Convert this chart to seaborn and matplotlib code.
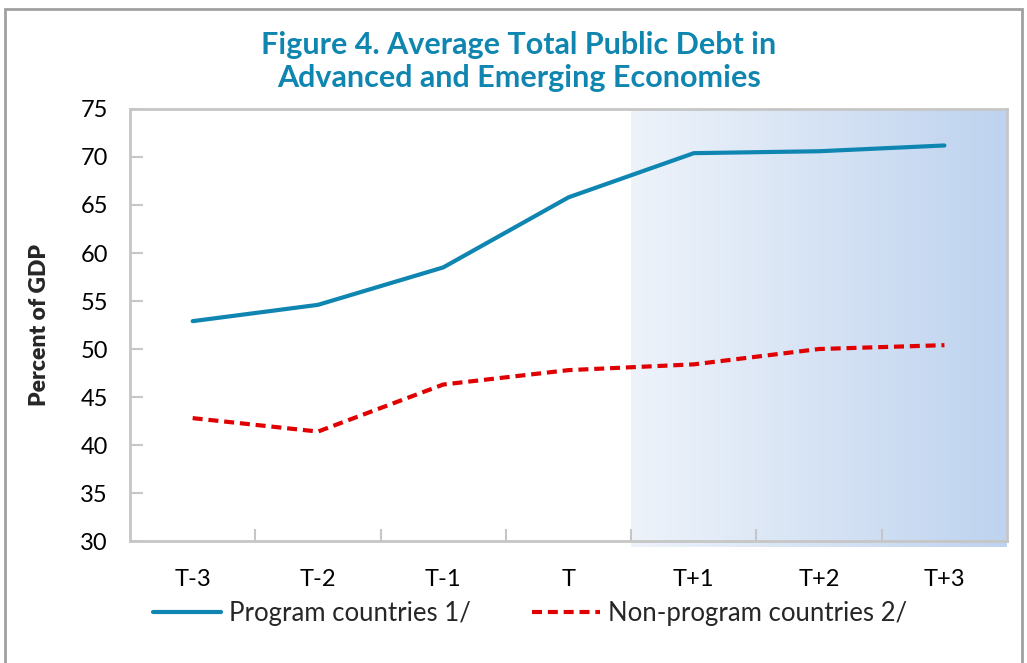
import numpy as np
import pandas as pd
import matplotlib
matplotlib.use("Agg")
import matplotlib.pyplot as plt
import seaborn as sns
from matplotlib.colors import LinearSegmentedColormap
from matplotlib.patches import Rectangle

periods = ["T-3", "T-2", "T-1", "T", "T+1", "T+2", "T+3"]
program = [52.9, 54.6, 58.5, 65.8, 70.4, 70.6, 71.2]
non_program = [42.8, 41.4, 46.3, 47.8, 48.4, 50.0, 50.4]

sns.set_theme(style="white")
plt.rcParams["font.family"] = ["Lato", "DejaVu Sans"]

df = pd.DataFrame({
    "period": periods * 2,
    "value": program + non_program,
    "series": ["Program countries 1/"] * 7 + ["Non-program countries 2/"] * 7,
})

fig = plt.figure(figsize=(10.27, 6.63), dpi=100)
ax = fig.add_axes([0.1266, 0.184, 0.854, 0.6516])

blue = "#0E86B1"
red = "#E00000"
gray = "#C6C6C6"

sns.lineplot(data=df, x="period", y="value", hue="series", style="series",
             palette=[blue, red], dashes=[(None, None), (3, 1.5)],
             linewidth=3, ax=ax, legend=False, sort=False)
ax.lines[1].set_linestyle((0, (2.4, 1.4)))

ax.set_xlim(-0.5, 6.5)
ax.set_ylim(30, 75)

# shaded projection region
cmap = LinearSegmentedColormap.from_list("proj", ["#EEF3FA", "#BED3EF"])
grad = np.linspace(0, 1, 256).reshape(1, -1)
ax.imshow(grad, cmap=cmap, aspect="auto", extent=[3.5, 6.5, 29.4, 75],
          zorder=0, clip_on=False)

ax.set_yticks(range(30, 80, 5))
ax.set_xticks(range(7))
ax.set_xticklabels(periods)
ax.set_xticks(np.arange(0.5, 6.5, 1), minor=True)
ax.tick_params(axis="x", which="major", length=0, pad=20, labelsize=17, colors="black")
ax.tick_params(axis="x", which="minor", direction="in", length=9, width=1.5, color=gray, bottom=True)
ax.tick_params(axis="y", direction="in", length=9, width=1.5, color=gray, labelsize=17, pad=16, left=True)
for lab in ax.get_yticklabels() + ax.get_xticklabels():
    lab.set_color("black")

for s in ax.spines.values():
    s.set_color(gray)
    s.set_linewidth(2)

ax.set_xlabel("")
ax.set_ylabel("Percent of GDP", fontsize=16.5, fontweight="heavy", labelpad=22)

fig.text(0.505, 0.907, "Figure 4. Average Total Public Debt in\nAdvanced and Emerging Economies",
         ha="center", va="center", fontsize=22, fontweight="bold", color="#0F86B0",
         linespacing=1.2)

handles = ax.lines[:2]
fig.legend(handles, ["Program countries 1/", "Non-program countries 2/"],
           loc="center", bbox_to_anchor=(0.516, 0.075), ncol=2, frameon=False,
           fontsize=18.5, handlelength=2.65, columnspacing=2.4, handletextpad=0.3)

fig.patches.append(Rectangle((0.005, -0.05), 0.99, 1.037, transform=fig.transFigure,
                             fill=False, edgecolor="#A0A0A0", linewidth=2))

fig.savefig("out.png", dpi=100)
